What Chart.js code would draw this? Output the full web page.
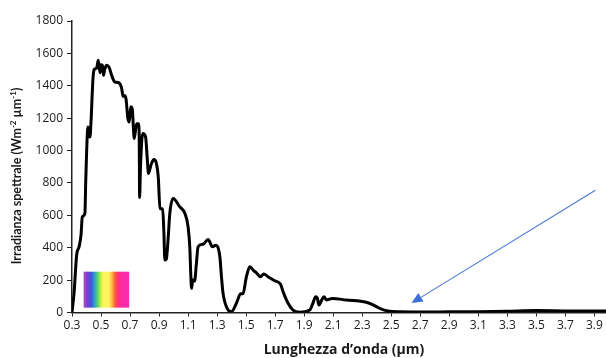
<!DOCTYPE html>
<html>
<head>
<meta charset="utf-8">
<script src="https://cdn.jsdelivr.net/npm/chart.js@4/dist/chart.umd.min.js"></script>
<style>
  html, body { margin: 0; padding: 0; background: #ffffff; }
  #wrap { width: 606px; height: 358px; }
</style>
</head>
<body>
<div id="wrap"><canvas id="spectrum" width="606" height="358"></canvas></div>
<script>
// Solar spectral irradiance at ground level (W m-2 um-1) versus wavelength (um)
const wavelength = [
  0.30, 0.314, 0.332, 0.35, 0.362, 0.371, 0.389, 0.395, 0.41, 0.418, 0.424, 0.43,
  0.445, 0.453, 0.47, 0.481, 0.493, 0.50, 0.509, 0.517, 0.525, 0.539, 0.555, 0.575,
  0.596, 0.619, 0.642, 0.652, 0.66, 0.672, 0.685, 0.695, 0.705, 0.715, 0.729, 0.745,
  0.757, 0.763, 0.766, 0.772, 0.787, 0.807, 0.818, 0.827, 0.835, 0.848, 0.864, 0.88,
  0.895, 0.906, 0.925, 0.933, 0.94, 0.95, 0.962, 0.974, 0.997, 1.043, 1.078, 1.10,
  1.112, 1.118, 1.124, 1.132, 1.145, 1.157, 1.169, 1.204, 1.238, 1.268, 1.291, 1.319,
  1.33, 1.341, 1.369, 1.399, 1.433, 1.461, 1.479, 1.502, 1.525, 1.548, 1.571, 1.599,
  1.621, 1.651, 1.697, 1.736, 1.759, 1.789, 1.823, 1.869, 1.938, 1.96, 1.979, 1.99,
  2.002, 2.02, 2.037, 2.053, 2.094, 2.19, 2.328, 2.363, 2.42, 2.477, 2.557, 2.7,
  2.9, 3.1, 3.3, 3.5, 3.7, 3.98
];
const irradiance = [
  0, 118, 355, 410, 478, 590, 612, 820, 1145, 1090, 1084, 1160,
  1450, 1500, 1510, 1557, 1480, 1530, 1526, 1465, 1500, 1526, 1515, 1460,
  1423, 1420, 1385, 1335, 1340, 1320, 1200, 1176, 1270, 1259, 1074, 1166,
  1165, 1100, 710, 900, 1105, 1084, 960, 858, 880, 920, 944, 925,
  830, 642, 640, 500, 324, 330, 450, 612, 704, 652, 612, 529,
  400, 250, 149, 200, 195, 300, 406, 422, 451, 406, 416, 344,
  220, 118, 26, 5, 57, 114, 118, 221, 282, 262, 245, 221,
  237, 221, 196, 176, 118, 57, 15, 2, 15, 57, 97, 90,
  46, 75, 97, 77, 87, 77, 63, 52, 26, 9, 4, 3,
  4, 5, 8, 12, 10, 9
];

// Axis ticks
const xTickValues = [0.3, 0.5, 0.7, 0.9, 1.1, 1.3, 1.5, 1.7, 1.9, 2.1, 2.3, 2.5, 2.7, 2.9, 3.1, 3.3, 3.5, 3.7, 3.9];
const xTickLabels = ['0.3', '0.5', '0.7', '0.9', '1.1', '1.3', '1.5', '1.7', '1.9', '2.1', '2.3', '2.5', '2.7', '2.9', '3.1', '3.3', '3.5', '3.7', '3.9'];
const yTickValues = [0, 200, 400, 600, 800, 1000, 1200, 1400, 1600, 1800];
const yTickLabels = ['0', '200', '400', '600', '800', '1000', '1200', '1400', '1600', '1800'];

// Visible-band swatch (wavelength / irradiance bounds) and pointer arrow (data coords)
const visibleBand = { x0: 0.38, x1: 0.694, y0: 30, y1: 252 };
const pointerArrow = { from: [3.907, 755], to: [2.64, 58] };

const TEXT = '#1a1a1a';
const FONT = "'Open Sans', 'DejaVu Sans', sans-serif";
const Y_TITLE_FONT = "Lato, 'Open Sans', sans-serif";

const points = wavelength.map((w, i) => ({ x: w, y: irradiance[i] }));

// draws a run of [text, isSuperscript] pieces centred on (0,0)
function drawRichText(ctx, pieces, size) {
  const normal = 'bold ' + size + 'px ' + Y_TITLE_FONT;
  const sup = 'bold ' + Math.round(size * 0.62) + 'px ' + Y_TITLE_FONT;
  let total = 0;
  const widths = pieces.map(([txt, s]) => {
    ctx.font = s ? sup : normal;
    const w = ctx.measureText(txt).width;
    total += w;
    return w;
  });
  let cx = -total / 2;
  const base = size * 0.36;
  ctx.textAlign = 'left';
  ctx.textBaseline = 'alphabetic';
  pieces.forEach(([txt, s], i) => {
    ctx.font = s ? sup : normal;
    ctx.fillText(txt, cx, s ? base - size * 0.38 : base);
    cx += widths[i];
  });
}

const overlays = {
  id: 'overlays',
  beforeDatasetsDraw(chart) {
    const { ctx, scales: { x, y } } = chart;
    const l = x.getPixelForValue(visibleBand.x0);
    const r = x.getPixelForValue(visibleBand.x1);
    const t = y.getPixelForValue(visibleBand.y1);
    const b = y.getPixelForValue(visibleBand.y0);
    const g = ctx.createLinearGradient(l, 0, r, 0);
    g.addColorStop(0.00, '#c048c8');
    g.addColorStop(0.08, '#7a3ccf');
    g.addColorStop(0.17, '#3f55dc');
    g.addColorStop(0.25, '#2fa8c8');
    g.addColorStop(0.31, '#5cd46a');
    g.addColorStop(0.38, '#c8f048');
    g.addColorStop(0.44, '#fff85a');
    g.addColorStop(0.56, '#fff060');
    g.addColorStop(0.63, '#ffb040');
    g.addColorStop(0.69, '#ff5a3c');
    g.addColorStop(0.75, '#ff3078');
    g.addColorStop(0.85, '#ff2aa6');
    g.addColorStop(1.00, '#f52cb0');
    ctx.save();
    ctx.fillStyle = g;
    ctx.fillRect(l, t, r - l, b - t);
    ctx.restore();
  },
  afterDraw(chart) {
    const { ctx, scales: { x, y } } = chart;
    // pointer arrow
    const x1 = x.getPixelForValue(pointerArrow.from[0]);
    const y1 = y.getPixelForValue(pointerArrow.from[1]);
    const x2 = x.getPixelForValue(pointerArrow.to[0]);
    const y2 = y.getPixelForValue(pointerArrow.to[1]);
    const ang = Math.atan2(y2 - y1, x2 - x1);
    const head = 11, half = 5;
    const bx = x2 - head * Math.cos(ang), by = y2 - head * Math.sin(ang);
    ctx.save();
    ctx.strokeStyle = '#4a78d6';
    ctx.fillStyle = '#3f6fd4';
    ctx.lineWidth = 1.1;
    ctx.beginPath();
    ctx.moveTo(x1, y1);
    ctx.lineTo(bx, by);
    ctx.stroke();
    ctx.beginPath();
    ctx.moveTo(x2, y2);
    ctx.lineTo(bx + half * Math.sin(ang), by - half * Math.cos(ang));
    ctx.lineTo(bx - half * Math.sin(ang), by + half * Math.cos(ang));
    ctx.closePath();
    ctx.fill();
    ctx.restore();

    // axis titles
    ctx.save();
    ctx.fillStyle = TEXT;
    ctx.textBaseline = 'middle';
    ctx.textAlign = 'center';
    ctx.font = "bold 14px " + FONT;
    ctx.fillText('Lunghezza d\u2019onda (\u00b5m)', 344, 350);
    ctx.restore();

    ctx.save();
    ctx.fillStyle = TEXT;
    ctx.translate(16, 176);
    ctx.rotate(-Math.PI / 2);
    drawRichText(ctx, [
      ['Irradianza spettrale (Wm', false], ['-2', true], [' \u00b5m', false], ['-1', true], [')', false]
    ], 12.5);
    ctx.restore();
  }
};

new Chart(document.getElementById('spectrum'), {
  type: 'line',
  data: {
    datasets: [{
      data: points,
      borderColor: '#000000',
      borderWidth: 3,
      pointRadius: 0,
      fill: false,
      cubicInterpolationMode: 'monotone',
      borderJoinStyle: 'round',
      borderCapStyle: 'round'
    }]
  },
  options: {
    responsive: false,
    devicePixelRatio: 1,
    animation: false,
    layout: { padding: { top: 21, right: 0, left: 0, bottom: 0 } },
    plugins: { legend: { display: false }, tooltip: { enabled: false } },
    scales: {
      x: {
        type: 'linear',
        min: 0.3,
        max: 3.98,
        afterBuildTicks(scale) { scale.ticks = xTickValues.map(v => ({ value: v })); },
        afterFit(scale) { scale.height = 45.5; },
        ticks: {
          autoSkip: false,
          maxRotation: 0,
          padding: 2,
          color: TEXT,
          font: { family: FONT, size: 12 },
          callback(value) {
            const i = xTickValues.findIndex(v => Math.abs(v - value) < 1e-6);
            return i >= 0 ? xTickLabels[i] : '';
          }
        },
        grid: { drawOnChartArea: false, drawTicks: true, tickLength: 4, color: '#222' },
        border: { display: true, color: '#222', width: 1.5 }
      },
      y: {
        min: 0,
        max: 1800,
        afterBuildTicks(scale) { scale.ticks = yTickValues.map(v => ({ value: v })); },
        afterFit(scale) { scale.width = 72; },
        ticks: {
          padding: 4,
          color: TEXT,
          font: { family: FONT, size: 12 },
          callback(value) {
            const i = yTickValues.indexOf(value);
            return i >= 0 ? yTickLabels[i] : '';
          }
        },
        grid: { drawOnChartArea: false, drawTicks: true, tickLength: 5, color: '#222' },
        border: { display: true, color: '#222', width: 1.5 }
      }
    }
  },
  plugins: [overlays]
});
</script>
</body>
</html>
